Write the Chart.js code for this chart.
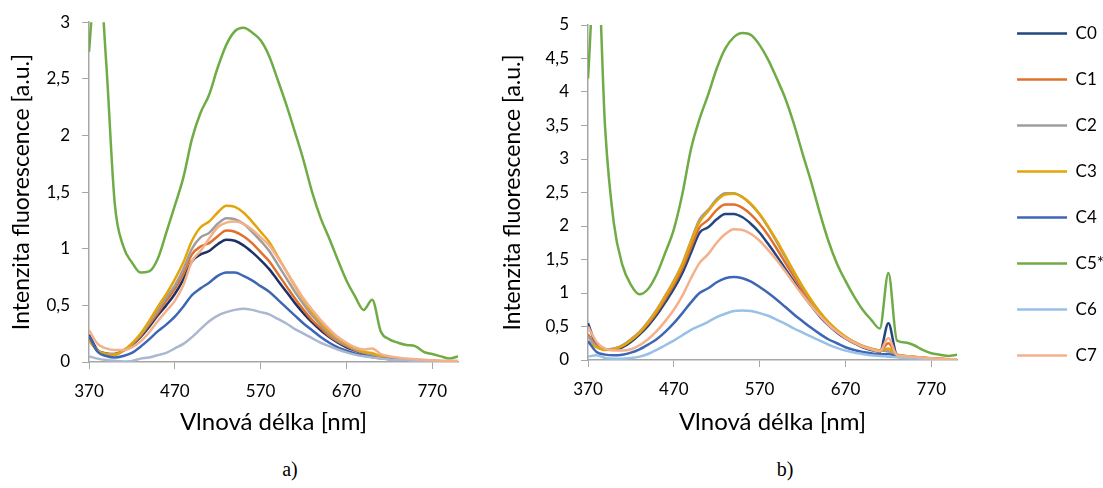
<!DOCTYPE html>
<html lang="cs">
<head>
    <meta charset="UTF-8">
    <title>Intenzita fluorescence</title>
    <script src="https://cdn.jsdelivr.net/npm/chart.js"></script>
    <style>
        body { margin: 0; width: 1103px; height: 488px; background: #fff; overflow: hidden; position: relative; }
        .panel { position: absolute; }
        .caption { position: absolute; top: 458px; width: 40px; text-align: center;
                   font-family: "Liberation Serif", serif; font-size: 20px; color: #000; }
    </style>
</head>
<body>
    <div class="panel" style="left:0; top:0; width:480px; height:440px;"><canvas id="chartA"></canvas></div>
    <div class="panel" style="left:490px; top:-4px; width:624px; height:444px;"><canvas id="chartB"></canvas></div>
    <div class="caption" style="left:270px;">a)</div>
    <div class="caption" style="left:765px;">b)</div>

    <script>
        // wavelength grid [nm]
        const wavelengths = [370, 380, 390, 400, 410, 420, 430, 440, 450, 460,
                             470, 480, 490, 500, 510, 520, 530, 540, 550, 560,
                             570, 580, 590, 600, 610, 620, 630, 640, 650, 660,
                             670, 680, 690, 700, 710, 720, 730, 740, 750, 760,
                             770, 780, 790, 800];
        const seriesNames = ['C0', 'C1', 'C2', 'C3', 'C4', 'C5*', 'C6', 'C7'];
        const xTicks = [370, 470, 570, 670, 770];
        const yTicksA = [0, 0.5, 1, 1.5, 2, 2.5, 3];
        const yTicksB = [0, 0.5, 1, 1.5, 2, 2.5, 3, 3.5, 4, 4.5, 5];

        // panel a)
        const c0a = [0.24, 0.105, 0.076, 0.07, 0.10, 0.15, 0.22, 0.31, 0.41, 0.50,
                     0.60, 0.73, 0.89, 0.95, 0.98, 1.04, 1.08, 1.07, 1.03, 0.97,
                     0.90, 0.82, 0.72, 0.62, 0.52, 0.43, 0.35, 0.28, 0.22, 0.17,
                     0.13, 0.10, 0.075, 0.058, 0.045, 0.034, 0.026, 0.02, 0.015, 0.011,
                     0.008, 0.006, 0.005, 0.004];
        const c1a = [0.21, 0.10, 0.07, 0.068, 0.10, 0.155, 0.23, 0.33, 0.43, 0.54,
                     0.645, 0.78, 0.95, 1.02, 1.05, 1.11, 1.16, 1.15, 1.11, 1.05,
                     0.97, 0.89, 0.78, 0.67, 0.56, 0.46, 0.37, 0.30, 0.23, 0.18,
                     0.14, 0.105, 0.08, 0.065, 0.045, 0.035, 0.027, 0.02, 0.016, 0.012,
                     0.009, 0.007, 0.005, 0.004];
        const c2a = [0.20, 0.10, 0.07, 0.066, 0.10, 0.16, 0.24, 0.345, 0.456, 0.57,
                     0.675, 0.82, 1.00, 1.10, 1.14, 1.22, 1.27, 1.26, 1.22, 1.15,
                     1.07, 0.98, 0.86, 0.74, 0.62, 0.51, 0.41, 0.33, 0.25, 0.19,
                     0.15, 0.11, 0.085, 0.065, 0.05, 0.035, 0.028, 0.022, 0.018, 0.013,
                     0.01, 0.007, 0.005, 0.005];
        const c3a = [0.19, 0.10, 0.07, 0.065, 0.10, 0.165, 0.25, 0.36, 0.485, 0.60,
                     0.73, 0.88, 1.07, 1.19, 1.24, 1.32, 1.38, 1.37, 1.32, 1.24,
                     1.15, 1.06, 0.93, 0.80, 0.67, 0.55, 0.44, 0.35, 0.27, 0.21,
                     0.16, 0.12, 0.09, 0.08, 0.05, 0.04, 0.03, 0.025, 0.02, 0.015,
                     0.01, 0.008, 0.006, 0.005];
        const c4a = [0.23, 0.09, 0.053, 0.04, 0.053, 0.08, 0.135, 0.20, 0.27, 0.33,
                     0.40, 0.49, 0.59, 0.65, 0.70, 0.76, 0.79, 0.79, 0.76, 0.72,
                     0.67, 0.62, 0.55, 0.48, 0.41, 0.34, 0.28, 0.22, 0.17, 0.13,
                     0.10, 0.075, 0.057, 0.043, 0.032, 0.025, 0.019, 0.014, 0.011, 0.008,
                     0.006, 0.005, 0.004, 0.003];
        const c5a = [2.74, 3.6, 2.65, 1.40, 1.02, 0.88, 0.79, 0.80, 0.91, 1.14,
                     1.38, 1.63, 1.97, 2.20, 2.36, 2.60, 2.80, 2.92, 2.95, 2.91,
                     2.84, 2.70, 2.49, 2.27, 2.03, 1.78, 1.50, 1.27, 1.09, 0.90,
                     0.72, 0.58, 0.46, 0.55, 0.27, 0.20, 0.17, 0.15, 0.14, 0.09,
                     0.07, 0.05, 0.03, 0.05];
        const c6a = [0.05, 0.03, 0.018, 0.01, 0.005, 0.01, 0.03, 0.04, 0.06, 0.08,
                     0.12, 0.16, 0.22, 0.29, 0.36, 0.41, 0.44, 0.46, 0.47, 0.46,
                     0.44, 0.42, 0.38, 0.34, 0.29, 0.25, 0.21, 0.17, 0.14, 0.11,
                     0.085, 0.065, 0.05, 0.04, 0.03, 0.022, 0.017, 0.013, 0.01, 0.008,
                     0.006, 0.005, 0.004, 0.003];
        const c7a = [0.28, 0.16, 0.12, 0.105, 0.105, 0.13, 0.18, 0.26, 0.36, 0.45,
                     0.54, 0.68, 0.89, 0.98, 1.09, 1.19, 1.23, 1.24, 1.22, 1.17,
                     1.10, 1.03, 0.92, 0.80, 0.68, 0.56, 0.46, 0.37, 0.29, 0.22,
                     0.17, 0.13, 0.11, 0.12, 0.07, 0.05, 0.04, 0.03, 0.025, 0.02,
                     0.015, 0.012, 0.01, 0.01];

        // panel b)
        const c0b = [0.55, 0.22, 0.16, 0.16, 0.19, 0.27, 0.38, 0.51, 0.67, 0.86,
                     1.06, 1.30, 1.60, 1.90, 1.98, 2.10, 2.18, 2.18, 2.13, 2.03,
                     1.90, 1.73, 1.55, 1.36, 1.17, 0.98, 0.81, 0.65, 0.52, 0.41,
                     0.32, 0.25, 0.19, 0.15, 0.12, 0.55, 0.07, 0.05, 0.04, 0.03,
                     0.022, 0.016, 0.011, 0.009];
        const c1b = [0.38, 0.21, 0.16, 0.17, 0.21, 0.29, 0.40, 0.54, 0.71, 0.91,
                     1.12, 1.37, 1.68, 1.98, 2.09, 2.24, 2.32, 2.32, 2.27, 2.17,
                     2.03, 1.86, 1.66, 1.45, 1.24, 1.03, 0.85, 0.68, 0.54, 0.43,
                     0.33, 0.26, 0.20, 0.16, 0.13, 0.25, 0.07, 0.055, 0.045, 0.033,
                     0.024, 0.017, 0.012, 0.01];
        const c2b = [0.35, 0.20, 0.16, 0.17, 0.22, 0.31, 0.42, 0.57, 0.75, 0.96,
                     1.18, 1.44, 1.78, 2.10, 2.24, 2.40, 2.49, 2.49, 2.43, 2.32,
                     2.17, 1.98, 1.76, 1.53, 1.30, 1.08, 0.88, 0.71, 0.56, 0.44,
                     0.34, 0.27, 0.21, 0.17, 0.14, 0.13, 0.08, 0.06, 0.05, 0.035,
                     0.025, 0.018, 0.012, 0.01];
        const c3b = [0.27, 0.19, 0.15, 0.16, 0.21, 0.30, 0.41, 0.56, 0.74, 0.95,
                     1.17, 1.43, 1.76, 2.06, 2.22, 2.38, 2.47, 2.48, 2.43, 2.33,
                     2.18, 1.99, 1.78, 1.55, 1.32, 1.10, 0.90, 0.72, 0.57, 0.45,
                     0.35, 0.27, 0.21, 0.17, 0.14, 0.17, 0.08, 0.06, 0.05, 0.035,
                     0.025, 0.018, 0.012, 0.01];
        const c4b = [0.28, 0.12, 0.08, 0.07, 0.08, 0.11, 0.16, 0.23, 0.31, 0.42,
                     0.55, 0.70, 0.86, 1.00, 1.07, 1.16, 1.22, 1.24, 1.22, 1.17,
                     1.09, 1.00, 0.90, 0.79, 0.68, 0.58, 0.48, 0.39, 0.31, 0.25,
                     0.19, 0.15, 0.12, 0.10, 0.085, 0.09, 0.05, 0.04, 0.03, 0.022,
                     0.016, 0.012, 0.008, 0.006];
        const c5b = [4.2, 6.2, 3.45, 2.05, 1.42, 1.12, 0.98, 1.06, 1.28, 1.60,
                     1.95, 2.48, 3.15, 3.60, 3.96, 4.35, 4.65, 4.82, 4.88, 4.85,
                     4.70, 4.48, 4.20, 3.90, 3.52, 3.08, 2.66, 2.20, 1.78, 1.44,
                     1.18, 0.95, 0.75, 0.60, 0.47, 1.30, 0.29, 0.26, 0.22, 0.15,
                     0.10, 0.08, 0.06, 0.08];
        const c6b = [0.05, 0.07, 0.03, 0.02, 0.02, 0.03, 0.05, 0.09, 0.15, 0.22,
                     0.29, 0.37, 0.45, 0.51, 0.57, 0.64, 0.69, 0.73, 0.74, 0.73,
                     0.70, 0.66, 0.60, 0.54, 0.47, 0.41, 0.35, 0.29, 0.23, 0.18,
                     0.14, 0.11, 0.09, 0.07, 0.06, 0.05, 0.04, 0.03, 0.022, 0.016,
                     0.012, 0.009, 0.007, 0.005];
        const c7b = [0.50, 0.27, 0.17, 0.14, 0.14, 0.16, 0.22, 0.31, 0.43, 0.58,
                     0.75, 0.96, 1.22, 1.45, 1.58, 1.75, 1.88, 1.95, 1.94, 1.88,
                     1.78, 1.64, 1.49, 1.32, 1.14, 0.97, 0.81, 0.66, 0.53, 0.42,
                     0.33, 0.26, 0.20, 0.16, 0.13, 0.33, 0.07, 0.055, 0.045, 0.035,
                     0.025, 0.018, 0.013, 0.01];

        const colorsA = ['#1c3266', '#e0702c', '#9e9e9e', '#e3a50a', '#3d67b5', '#6fac46', '#aab7cf', '#f4b08a'];
        const colorsB = ['#234681', '#e0702c', '#9e9e9e', '#e3a50a', '#3d67b5', '#6fac46', '#99c0e6', '#f4b08a'];

        const FONT = 'Lato, "Open Sans", sans-serif';
        const AXIS_GRAY = '#a6a6a6';

        function buildDatasets(series, colors) {
            return series.map((values, i) => ({
                label: seriesNames[i],
                data: wavelengths.map((nm, j) => ({ x: nm, y: values[j] })),
                borderColor: colors[i],
                backgroundColor: colors[i],
                borderWidth: 2.5,
                pointRadius: 0,
                fill: false,
                cubicInterpolationMode: 'monotone',
                order: series.length - i   // later series drawn on top, as in Excel
            }));
        }

        function commaLabel(v) {
            return String(v).replace('.', ',');
        }

        function axisX(height) {
            return {
                type: 'linear', min: 370, max: 800,
                afterBuildTicks: s => { s.ticks = xTicks.map(v => ({ value: v })); },
                afterFit: s => { s.height = height; },
                grid: { display: true, drawOnChartArea: false, drawTicks: true, tickLength: 7, color: AXIS_GRAY },
                border: { display: true, color: AXIS_GRAY, width: 1.5 },
                ticks: { color: '#000', font: { family: FONT, size: 17 }, padding: 12, maxRotation: 0 },
                title: { display: true, text: 'Vlnová délka [nm]', color: '#000',
                         font: { family: FONT, size: 24 }, padding: { top: 0, bottom: 3 } }
            };
        }

        function axisY(max, ticks, width, titlePad) {
            return {
                min: 0, max: max,
                afterBuildTicks: s => { s.ticks = ticks.map(v => ({ value: v })); },
                afterFit: s => { s.width = width; },
                grid: { display: true, drawOnChartArea: false, drawTicks: true, tickLength: 7, color: AXIS_GRAY },
                border: { display: true, color: AXIS_GRAY, width: 1.5 },
                ticks: { color: '#000', font: { family: FONT, size: 17 }, padding: 12, callback: commaLabel },
                title: { display: true, text: 'Intenzita fluorescence [a.u.]', color: '#000',
                         font: { family: FONT, size: 23 }, padding: { top: titlePad, bottom: 0 } }
            };
        }

        // chart a) - no legend
        new Chart(document.getElementById('chartA'), {
            type: 'line',
            data: { datasets: buildDatasets([c0a, c1a, c2a, c3a, c4a, c5a, c6a, c7a], colorsA) },
            options: {
                responsive: true, maintainAspectRatio: false, animation: false,
                layout: { padding: { top: 20, right: 22, left: 0, bottom: 0 } },
                plugins: { legend: { display: false }, tooltip: { enabled: false } },
                scales: { x: axisX(78), y: axisY(3, yTicksA, 89, 8) }
            }
        });

        // chart b) - carries the shared legend on the right
        new Chart(document.getElementById('chartB'), {
            type: 'line',
            data: { datasets: buildDatasets([c0b, c1b, c2b, c3b, c4b, c5b, c6b, c7b], colorsB) },
            options: {
                responsive: true, maintainAspectRatio: false, animation: false,
                layout: { padding: 0 },
                plugins: {
                    tooltip: { enabled: false },
                    legend: {
                        position: 'right', align: 'start', maxWidth: 220,
                        labels: {
                            usePointStyle: true, pointStyle: 'line', pointStyleWidth: 50,
                            padding: 29, color: '#000',
                            font: { family: FONT, size: 17 },
                            sort: (a, b) => a.datasetIndex - b.datasetIndex
                        }
                    }
                },
                scales: {
                    x: axisX(80),
                    y: axisY(5, yTicksB, 98, 9),
                    // empty spacer axes to place the plot area
                    padTop: { position: 'top', display: true, afterFit: s => { s.height = 29; },
                              ticks: { display: false }, grid: { display: false }, border: { display: false } },
                    padRight: { position: 'right', display: true, afterFit: s => { s.width = 31; },
                                ticks: { display: false }, grid: { display: false }, border: { display: false } }
                }
            }
        });
    </script>
</body>
</html>
